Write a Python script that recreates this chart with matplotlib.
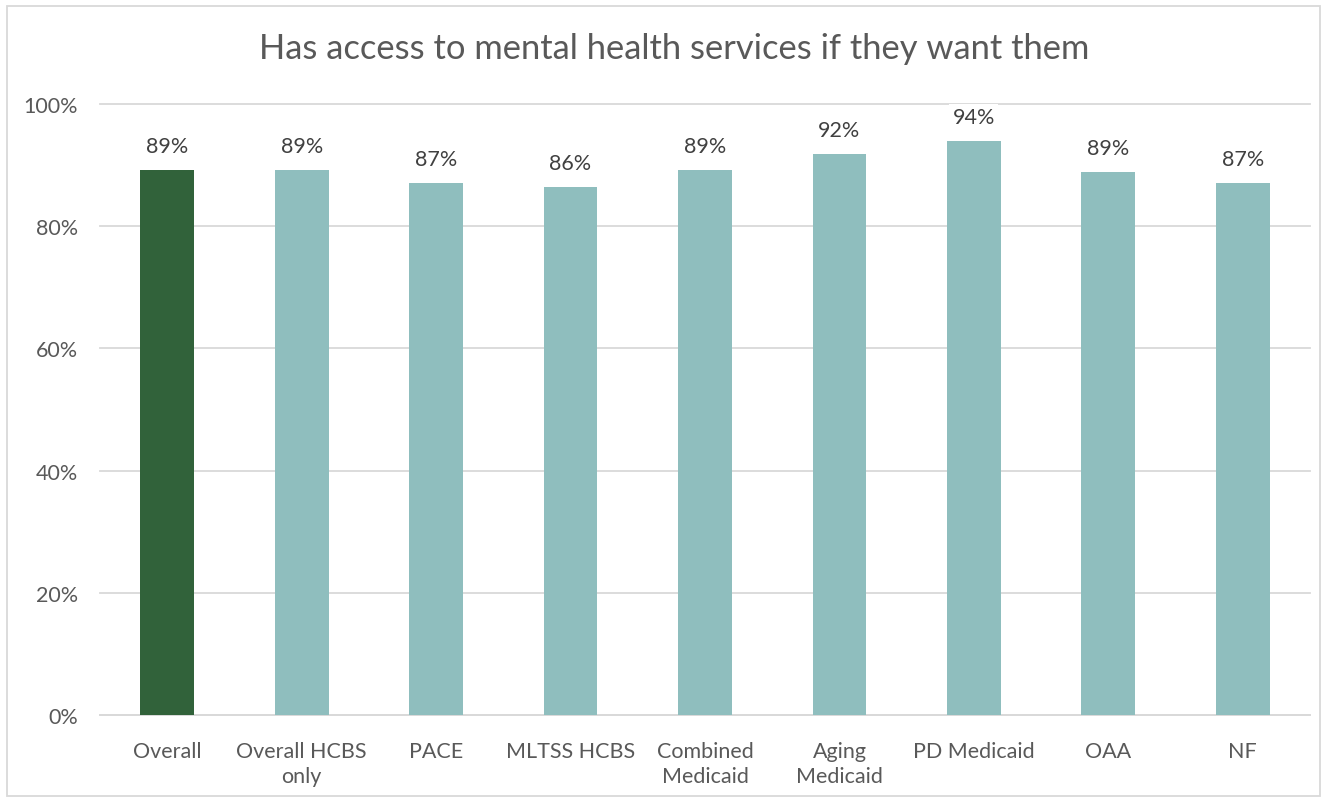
import matplotlib.pyplot as plt
import numpy as np

categories = ["Overall", "Overall HCBS\nonly", "PACE", "MLTSS HCBS", "Combined\nMedicaid",
              "Aging\nMedicaid", "PD Medicaid", "OAA", "NF"]
values = [0.892, 0.892, 0.871, 0.864, 0.892, 0.918, 0.939, 0.889, 0.871]
labels = ["89%", "89%", "87%", "86%", "89%", "92%", "94%", "89%", "87%"]
yticks = [0, 0.2, 0.4, 0.6, 0.8, 1.0]
ytick_labels = ["0%", "20%", "40%", "60%", "80%", "100%"]

GREEN = "#31623A"
TEAL = "#8FBEBE"
TEXT = "#595959"
GRID = "#D9D9D9"

plt.rcParams["font.family"] = ["Lato", "DejaVu Sans"]


def main():
    fig = plt.figure(figsize=(13.27, 8.03), dpi=100)
    ax = fig.add_axes([100 / 1327, 1 - 716 / 803, 1210 / 1327, 611 / 803])

    x = np.arange(len(categories))
    colors = [GREEN] + [TEAL] * (len(categories) - 1)
    ax.bar(x, values, width=0.4, color=colors, zorder=3)

    for xi, v, lab in zip(x, values, labels):
        ax.annotate(lab, (xi, v), xytext=(0, 10), textcoords="offset points",
                    ha="center", va="bottom", fontsize=15.5, color="#404040", zorder=5,
                    bbox=dict(boxstyle="square,pad=0.15", fc="white", ec="none"))

    ax.set_xlim(-0.5, len(categories) - 0.5)
    ax.set_ylim(0, 1.0)
    ax.set_yticks(yticks)
    ax.set_yticklabels(ytick_labels)
    ax.set_xticks(x)
    ax.set_xticklabels(categories, linespacing=1.3)
    ax.tick_params(axis="both", length=0, labelsize=15.5, colors=TEXT)
    ax.tick_params(axis="x", pad=19)
    ax.tick_params(axis="y", pad=16)
    ax.yaxis.grid(True, color=GRID, linewidth=1.3, zorder=0)
    for spine in ["top", "right", "left"]:
        ax.spines[spine].set_visible(False)
    ax.spines["bottom"].set_color(GRID)
    ax.spines["bottom"].set_linewidth(1.3)
    for gl in ax.yaxis.get_gridlines():
        gl.set_clip_on(False)

    fig.text(674 / 1327, 1 - 49 / 803, "Has access to mental health services if they want them",
             ha="center", va="center", fontsize=24.8, color=TEXT)

    border = plt.Rectangle((7 / 1327, 1 - 797 / 803), 1313 / 1327, 790 / 803,
                           transform=fig.transFigure, fill=False, ec=GRID, lw=1.3)
    fig.patches.append(border)

    fig.savefig("out.png", dpi=100)


if __name__ == "__main__":
    main()
